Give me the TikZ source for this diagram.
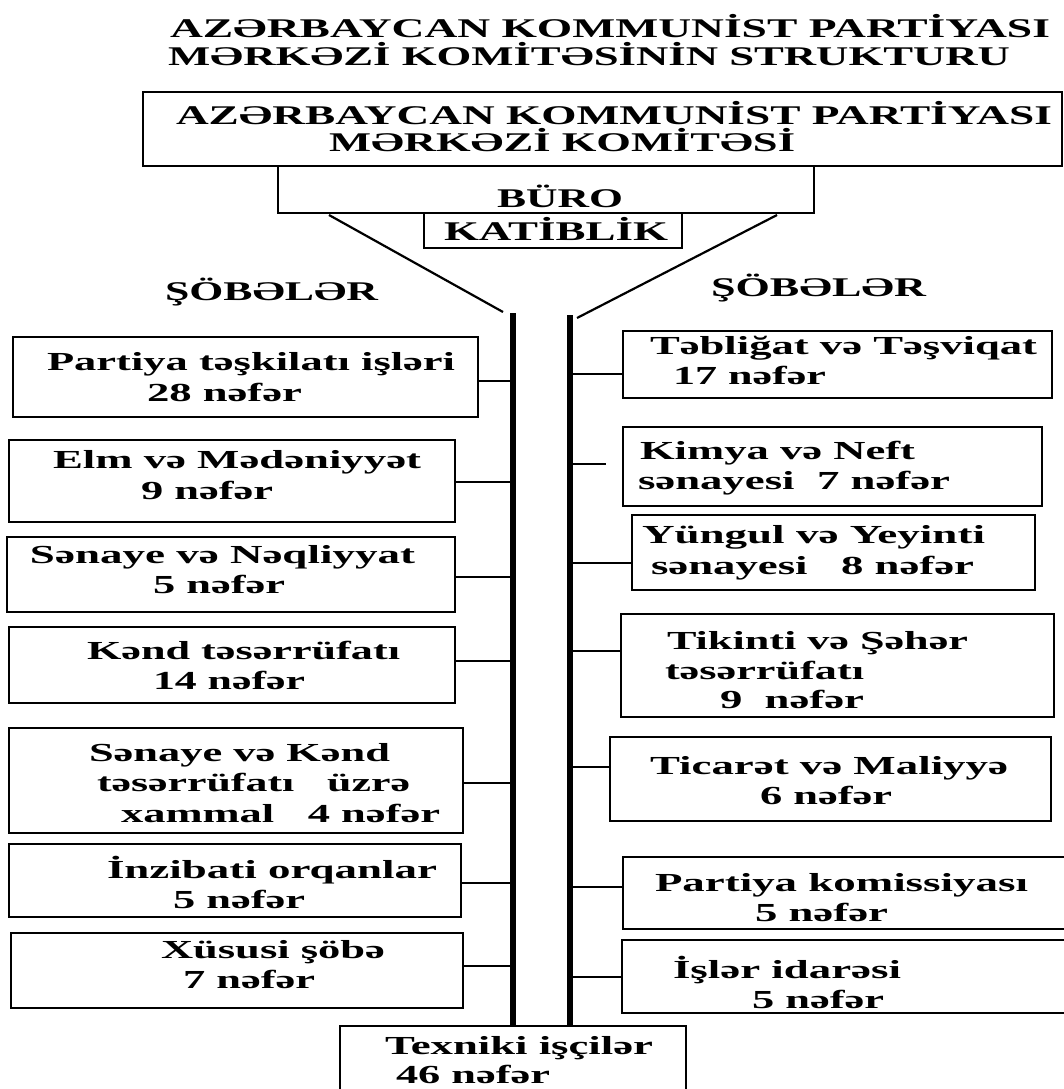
\documentclass[tikz,border=0pt]{standalone}
\usepackage{fontspec}
\setmainfont{Liberation Serif}
\newcommand\fitw[2]{\resizebox{#1pt}{\height}{#2}}
\begin{document}
\begin{tikzpicture}[x=1pt,y=-1pt,
  box/.style={draw,line width=2.6pt,anchor=north west,inner sep=0pt,outer sep=0pt},
  txt/.style={anchor=base west,inner sep=0pt,outer sep=0pt,font=\fontsize{26}{28}\selectfont\bfseries},
  ttl/.style={txt,font=\fontsize{27}{29}\selectfont\bfseries},
  conn/.style={line width=2.6pt},
  bar/.style={line width=6pt},
  funnel/.style={line width=2.2pt}]
\fill[white] (0,0) rectangle (1064,1089);
\useasboundingbox (0,0) rectangle (1064,1089);

% title
\node[ttl] (title1) at (170,38) {\fitw{880}{AZƏRBAYCAN KOMMUNİST PARTİYASI}};
\node[ttl] (title2) at (168,66) {\fitw{842}{MƏRKƏZİ KOMİTƏSİNİN STRUKTURU}};

% top boxes
\node[box,minimum width=919pt,minimum height=74pt] (mk) at (143,92) {};
\node[ttl] (mk1) at (176,125) {\fitw{876}{AZƏRBAYCAN KOMMUNİST PARTİYASI}};
\node[ttl] (mk2) at (329,152) {\fitw{466}{MƏRKƏZİ KOMİTƏSİ}};
\node[box,minimum width=536pt,minimum height=47pt] (buro) at (278,166) {};
\node[ttl] (burot) at (497,207) {\fitw{126}{BÜRO}};
\node[box,minimum width=258pt,minimum height=35pt] (kat) at (424,213) {};
\node[ttl] (katt) at (444,240) {\fitw{224}{KATİBLİK}};

\node[ttl] (sobL) at (165,300) {\fitw{213}{ŞÖBƏLƏR}};
\node[ttl] (sobR) at (711,296) {\fitw{215}{ŞÖBƏLƏR}};

% funnel and bars
\coordinate (fl1) at (329,215);
\coordinate (fl2) at (503,312);
\coordinate (fr1) at (777,215);
\coordinate (fr2) at (577,318);
\coordinate (lbar) at (513,313);
\coordinate (rbar) at (570,315);
\draw[funnel] (fl1) -- (fl2);
\draw[funnel] (fr1) -- (fr2);

% Texniki
\node[box,minimum width=346pt,minimum height=80pt] (tex) at (340,1026) {};
\node[txt] (texa) at (385,1054) {\fitw{268}{Texniki işçilər}};
\node[txt] (texb) at (396,1083) {\fitw{154}{46 nəfər}};

\draw[bar] (lbar) -- (lbar |- tex.north);
\draw[bar] (rbar) -- (rbar |- tex.north);

% left boxes
\node[box,minimum width=465pt,minimum height=80pt] (L1) at (13,337) {};
\node[txt] (L1a) at (47,370) {\fitw{408}{Partiya təşkilatı işləri}};
\node[txt] (L1b) at (147,401) {\fitw{155}{28 nəfər}};

\node[box,minimum width=446pt,minimum height=82pt] (L2) at (9,440) {};
\node[txt] (L2a) at (53,468) {\fitw{368}{Elm və Mədəniyyət}};
\node[txt] (L2b) at (141,499) {\fitw{132}{9 nəfər}};

\node[box,minimum width=448pt,minimum height=75pt] (L3) at (7,537) {};
\node[txt] (L3a) at (30,563) {\fitw{385}{Sənaye və Nəqliyyat}};
\node[txt] (L3b) at (153,593) {\fitw{132}{5 nəfər}};

\node[box,minimum width=446pt,minimum height=76pt] (L4) at (9,627) {};
\node[txt] (L4a) at (87,659) {\fitw{313}{Kənd təsərrüfatı}};
\node[txt] (L4b) at (153,689) {\fitw{152}{14 nəfər}};

\node[box,minimum width=454pt,minimum height=105pt] (L5) at (9,728) {};
\node[txt] (L5a) at (89,761) {\fitw{301}{Sənaye və Kənd}};
\node[txt] (L5b) at (97,791) {\fitw{313}{təsərrüfatı\ \ \ üzrə}};
\node[txt] (L5c) at (121,822) {\fitw{319}{xammal\ \ \ 4 nəfər}};

\node[box,minimum width=452pt,minimum height=73pt] (L6) at (9,844) {};
\node[txt] (L6a) at (107,878) {\fitw{330}{İnzibati orqanlar}};
\node[txt] (L6b) at (173,908) {\fitw{132}{5 nəfər}};

\node[box,minimum width=452pt,minimum height=75pt] (L7) at (11,933) {};
\node[txt] (L7a) at (161,958) {\fitw{224}{Xüsusi şöbə}};
\node[txt] (L7b) at (183,988) {\fitw{132}{7 nəfər}};

% right boxes
\node[box,minimum width=429pt,minimum height=67pt] (R1) at (623,331) {};
\node[txt] (R1a) at (650,354) {\fitw{387}{Təbliğat və Təşviqat}};
\node[txt] (R1b) at (673,384) {\fitw{153}{17 nəfər}};

\node[box,minimum width=419pt,minimum height=79pt] (R2) at (623,427) {};
\node[txt] (R2a) at (640,459) {\fitw{275}{Kimya və Neft}};
\node[txt] (R2b) at (638,489) {\fitw{312}{sənayesi\ \ 7 nəfər}};

\node[box,minimum width=403pt,minimum height=75pt] (R3) at (632,515) {};
\node[txt] (R3a) at (642,543) {\fitw{343}{Yüngul və Yeyinti}};
\node[txt] (R3b) at (651,574) {\fitw{323}{sənayesi\ \ \ 8 nəfər}};

\node[box,minimum width=433pt,minimum height=103pt] (R4) at (621,614) {};
\node[txt] (R4a) at (667,649) {\fitw{301}{Tikinti və Şəhər}};
\node[txt] (R4b) at (665,679) {\fitw{199}{təsərrüfatı}};
\node[txt] (R4c) at (720,708) {\fitw{144}{9\ \ nəfər}};

\node[box,minimum width=441pt,minimum height=84pt] (R5) at (610,737) {};
\node[txt] (R5a) at (650,774) {\fitw{358}{Ticarət və Maliyyə}};
\node[txt] (R5b) at (760,804) {\fitw{132}{6 nəfər}};

\node[box,minimum width=443pt,minimum height=72pt] (R6) at (623,857) {};
\node[txt] (R6a) at (655,891) {\fitw{373}{Partiya komissiyası}};
\node[txt] (R6b) at (755,921) {\fitw{133}{5 nəfər}};

\node[box,minimum width=444pt,minimum height=73pt] (R7) at (622,940) {};
\node[txt] (R7a) at (673,978) {\fitw{228}{İşlər idarəsi}};
\node[txt] (R7b) at (752,1008) {\fitw{132}{5 nəfər}};

% connectors left
\draw[conn] ([yshift=-4pt]L1.east) -- ([yshift=-4pt]L1.east -| lbar);
\draw[conn] ([yshift=-1pt]L2.east) -- ([yshift=-1pt]L2.east -| lbar);
\draw[conn] ([yshift=-2.5pt]L3.east) -- ([yshift=-2.5pt]L3.east -| lbar);
\draw[conn] ([yshift=4pt]L4.east) -- ([yshift=4pt]L4.east -| lbar);
\draw[conn] ([yshift=-2.5pt]L5.east) -- ([yshift=-2.5pt]L5.east -| lbar);
\draw[conn] ([yshift=-2.5pt]L6.east) -- ([yshift=-2.5pt]L6.east -| lbar);
\draw[conn] ([yshift=4.5pt]L7.east) -- ([yshift=4.5pt]L7.east -| lbar);

% connectors right
\coordinate (r2end) at (606,464);
\draw[conn] ([yshift=-9.5pt]R1.west -| rbar) -- ([yshift=-9.5pt]R1.west);
\draw[conn] (r2end -| rbar) -- (r2end);
\draw[conn] ([yshift=-10.5pt]R3.west -| rbar) -- ([yshift=-10.5pt]R3.west);
\draw[conn] ([yshift=14.5pt]R4.west -| rbar) -- ([yshift=14.5pt]R4.west);
\draw[conn] ([yshift=12pt]R5.west -| rbar) -- ([yshift=12pt]R5.west);
\draw[conn] ([yshift=6pt]R6.west -| rbar) -- ([yshift=6pt]R6.west);
\draw[conn] ([yshift=-0.5pt]R7.west -| rbar) -- ([yshift=-0.5pt]R7.west);
\end{tikzpicture}
\end{document}
